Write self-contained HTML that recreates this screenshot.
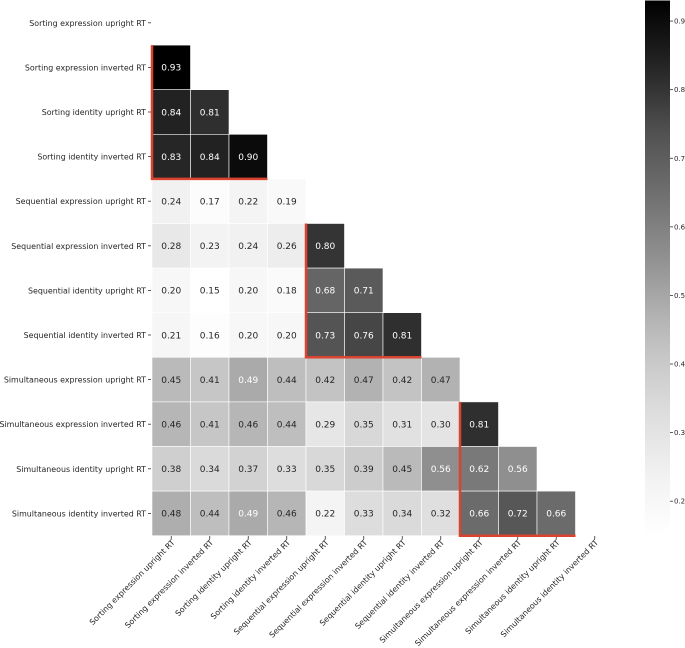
<!DOCTYPE html><html><head><style>body{margin:0;background:#fff}svg{display:block}text{font-family:"DejaVu Sans","Liberation Sans",sans-serif}</style></head><body>
<svg id="s" width="685" height="648" xmlns="http://www.w3.org/2000/svg"></svg>
<script>
const L=["Sorting expression upright RT","Sorting expression inverted RT","Sorting identity upright RT","Sorting identity inverted RT","Sequential expression upright RT","Sequential expression inverted RT","Sequential identity upright RT","Sequential identity inverted RT","Simultaneous expression upright RT","Simultaneous expression inverted RT","Simultaneous identity upright RT","Simultaneous identity inverted RT"];
const D=[[],[.93],[.84,.81],[.83,.84,.90],[.24,.17,.22,.19],[.28,.23,.24,.26,.80],[.20,.15,.20,.18,.68,.71],[.21,.16,.20,.20,.73,.76,.81],[.45,.41,.49,.44,.42,.47,.42,.47],[.46,.41,.46,.44,.29,.35,.31,.30,.81],[.38,.34,.37,.33,.35,.39,.45,.56,.62,.56],[.48,.44,.49,.46,.22,.33,.34,.32,.66,.72,.66]];
const st=[255,240,217,189,150,115,82,37,0];
function g(v){let t=Math.max(0,Math.min(1,(v-.15)/.78))*8;let i=Math.min(7,Math.floor(t));let c=Math.round(st[i]+(st[i+1]-st[i])*(t-i));return `rgb(${c},${c},${c})`}
const X0=152,W=38.5,Y0=0.5,H=44.6;let h='';
for(let r=0;r<12;r++){for(let c=0;c<D[r].length;c++){const v=D[r][c];const x=X0+c*W,y=Y0+r*H;
h+=`<rect x="${x}" y="${y}" width="${W}" height="${H}" fill="${g(v)}" stroke="#fff" stroke-width="0.6"/>`;
h+=`<text x="${x+W/2}" y="${y+H/2+3.3}" font-size="9" text-anchor="middle" fill="${v>=.49?'#fff':'#262626'}">${v.toFixed(2)}</text>`;}
const y=Y0+r*H+H/2;h+=`<text x="146" y="${y+3}" font-size="7.9" text-anchor="end" fill="#262626">${L[r]}</text><line x1="148" x2="151" y1="${y}" y2="${y}" stroke="#333" stroke-width="0.8"/>`;
const x=X0+r*W+W/2;h+=`<line x1="${x}" x2="${x}" y1="536" y2="539" stroke="#333" stroke-width="0.8"/><text transform="translate(${x+4},543) rotate(-45)" font-size="7.9" text-anchor="end" fill="#262626">${L[r]}</text>`;}
function red(c0,r0,n){const x=X0+c0*W,y1=Y0+r0*H,y2=y1+n*H,x2=x+n*W;h+=`<polyline points="${x},${y1} ${x},${y2} ${x2},${y2}" fill="none" stroke="#d9432f" stroke-width="2.5"/>`}
red(0,1,3);red(4,5,3);red(8,9,3);
h+=`<defs><linearGradient id="cb" x1="0" y1="1" x2="0" y2="0">`;for(let i=0;i<=20;i++){h+=`<stop offset="${i/20}" stop-color="${g(.15+.78*i/20)}"/>`}h+=`</linearGradient></defs>`;
h+=`<rect x="645" y="0.5" width="25" height="535" fill="url(#cb)"/>`;
for(let k=2;k<=9;k++){const y=0.5+(0.93-k/10)/0.78*535;h+=`<line x1="670" x2="673" y1="${y}" y2="${y}" stroke="#333" stroke-width="0.8"/><text x="674" y="${y+2.5}" font-size="7" fill="#262626">${(k/10).toFixed(1)}</text>`}
document.getElementById('s').innerHTML=h;
</script></body></html>
